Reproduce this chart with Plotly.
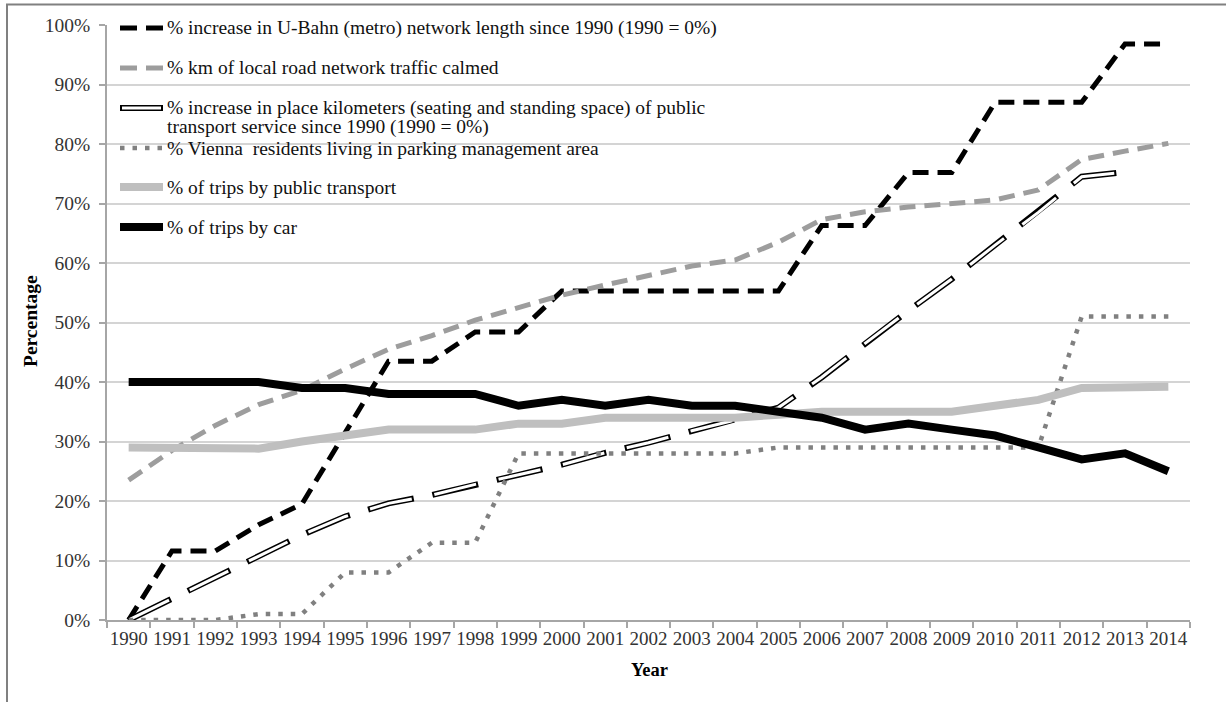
import plotly.graph_objects as go

# ---------------- data ----------------
years = [str(y) for y in range(1990, 2015)]
metro = [0, 11.6, 11.6, 16.0, 19.5, 31.5, 43.5, 43.5, 48.4, 48.4, 55.3, 55.3, 55.3,
         55.3, 55.3, 55.3, 66.3, 66.3, 75.2, 75.2, 87.0, 87.0, 87.0, 96.8, 96.8]
calmed = [23.5, 28.5, 32.7, 36.2, 38.6, 42.2, 45.5, 47.8, 50.4, 52.6, 54.6, 56.3, 57.9,
          59.5, 60.5, 63.5, 67.3, 68.6, 69.4, 70.1, 70.6, 72.3, 77.4, 78.8, 80.1]
place_km = [0, 3.6, 7.2, 10.7, 14.3, 17.4, 19.6, 21.0, 22.8, 24.4, 26.1, 28.1, 29.8,
            31.8, 33.6, 35.7, 40.8, 46.5, 52.0, 57.3, 63.0, 68.5, 74.5, 75.3, None]
parking = [0, 0, 0, 1, 1, 8, 8, 13, 13, 28, 28, 28, 28, 28, 28, 29, 29, 29, 29, 29,
           29, 29, 51, 51, 51]
public_transport = [29.0, 29.0, 29.0, 28.8, 30.0, 31.0, 32.0, 32.0, 32.0, 33.0, 33.0,
                    34.0, 34.0, 34.0, 34.0, 34.5, 35.0, 35.0, 35.0, 35.0, 36.0, 37.0,
                    39.0, 39.0, 39.2]
car = [40, 40, 40, 40, 39, 39, 38, 38, 38, 36, 37, 36, 37, 36, 36, 35, 34, 32, 33, 32,
       31, 29, 27, 28, 25]

legend_labels = [
    "% increase in U-Bahn (metro) network length since 1990 (1990 = 0%)",
    "% km of local road network traffic calmed",
    "% increase in place kilometers (seating and standing space) of public",
    "transport service since 1990 (1990 = 0%)",
    "% Vienna  residents living in parking management area",
    "% of trips by public transport",
    "% of trips by car",
]
y_ticks = list(range(0, 101, 10))
y_tick_text = [f"{v}%" for v in y_ticks]

# ---------------- layout geometry ----------------
W, H = 1226, 702
L, R, T, B = 107, 36, 25, 82
PW, PH = W - L - R, H - T - B
FONT = "Liberation Serif"


def px(xp):
    return (xp - L) / PW


def py(yp):
    return (H - B - yp) / PH


fig = go.Figure()

# metro (black dashed)
fig.add_trace(go.Scatter(x=years, y=metro, mode="lines",
                         line=dict(color="#000000", width=5, dash="16px,9px"),
                         showlegend=False))
# traffic calmed (grey dashed)
fig.add_trace(go.Scatter(x=years, y=calmed, mode="lines",
                         line=dict(color="#9d9d9d", width=5, dash="16px,9px"),
                         showlegend=False))
# place kilometers (white with black outline, long dash)
fig.add_trace(go.Scatter(x=years, y=place_km, mode="lines",
                         line=dict(color="#000000", width=6, dash="47px,19px"),
                         showlegend=False))
fig.add_trace(go.Scatter(x=years, y=place_km, mode="lines",
                         line=dict(color="#ffffff", width=3, dash="0px,2px,43px,21px"),
                         showlegend=False))
# parking management (grey dotted)
fig.add_trace(go.Scatter(x=years, y=parking, mode="lines",
                         line=dict(color="#808080", width=4.5, dash="4.5px,8px"),
                         showlegend=False))
# public transport
fig.add_trace(go.Scatter(x=years, y=public_transport, mode="lines",
                         line=dict(color="#bfbfbf", width=8), showlegend=False))
# car
fig.add_trace(go.Scatter(x=years, y=car, mode="lines",
                         line=dict(color="#000000", width=8), showlegend=False))

shapes = []
annotations = []

# white legend box (above gridlines, below traces)
shapes.append(dict(type="rect", xref="paper", yref="paper",
                   x0=px(113), x1=px(724), y0=py(244), y1=py(9),
                   fillcolor="#ffffff", line=dict(width=0), layer="between"))

# legend samples
rows = [28, 68, 108, 148, 187, 227]
sx0, sx1 = px(120), px(163)
shapes.append(dict(type="line", xref="paper", yref="paper", x0=sx0, x1=sx1,
                   y0=py(rows[0]), y1=py(rows[0]),
                   line=dict(color="#000000", width=5, dash="17px,9px")))
shapes.append(dict(type="line", xref="paper", yref="paper", x0=sx0, x1=sx1,
                   y0=py(rows[1]), y1=py(rows[1]),
                   line=dict(color="#9d9d9d", width=5, dash="17px,9px")))
shapes.append(dict(type="line", xref="paper", yref="paper", x0=sx0, x1=sx1,
                   y0=py(rows[2]), y1=py(rows[2]),
                   line=dict(color="#000000", width=6)))
shapes.append(dict(type="line", xref="paper", yref="paper", x0=px(122), x1=px(161),
                   y0=py(rows[2]), y1=py(rows[2]),
                   line=dict(color="#ffffff", width=3)))
shapes.append(dict(type="line", xref="paper", yref="paper", x0=sx0, x1=sx1,
                   y0=py(rows[3]), y1=py(rows[3]),
                   line=dict(color="#808080", width=4.5, dash="4.5px,8px")))
shapes.append(dict(type="line", xref="paper", yref="paper", x0=sx0, x1=sx1,
                   y0=py(rows[4]), y1=py(rows[4]),
                   line=dict(color="#bfbfbf", width=8)))
shapes.append(dict(type="line", xref="paper", yref="paper", x0=sx0, x1=sx1,
                   y0=py(rows[5]), y1=py(rows[5]),
                   line=dict(color="#000000", width=8)))

text_rows = [rows[0], rows[1], rows[2], 127, rows[3], rows[4], rows[5]]
for lab, yr in zip(legend_labels, text_rows):
    annotations.append(dict(text=lab, xref="paper", yref="paper", x=px(165), y=py(yr),
                            xanchor="left", yanchor="middle", showarrow=False,
                            font=dict(family=FONT, size=19.5, color="#111111")))

# axis titles
annotations.append(dict(text="<b>Year</b>", xref="paper", yref="paper",
                        x=px(649), y=py(670), xanchor="center", yanchor="middle",
                        showarrow=False, font=dict(family=FONT, size=18.5, color="#000000")))
annotations.append(dict(text="<b>Percentage</b>", xref="paper", yref="paper",
                        x=px(30), y=py(321), xanchor="center", yanchor="middle",
                        textangle=-90, showarrow=False,
                        font=dict(family=FONT, size=19.5, color="#000000")))

# outer frame (drawn as a rectangle outline that runs off the page)
shapes.append(dict(type="rect", xref="paper", yref="paper",
                   x0=px(7), x1=px(1240), y0=py(715), y1=py(4.5),
                   fillcolor="rgba(0,0,0,0)", line=dict(color="#808080", width=2)))

fig.update_layout(
    width=W, height=H,
    margin=dict(l=L, r=R, t=T, b=B, pad=0),
    paper_bgcolor="#ffffff", plot_bgcolor="#ffffff",
    font=dict(family=FONT, size=19, color="#333333"),
    showlegend=False,
    hovermode=False,
    shapes=shapes,
    annotations=annotations,
)
fig.update_xaxes(type="category", range=[-0.5, 24.5], tickson="boundaries",
                 ticks="outside", ticklen=6, tickcolor="#a6a6a6", tickwidth=1.5,
                 tickangle=0,
                 showline=True, linecolor="#a6a6a6", linewidth=1.5, showgrid=False,
                 tickfont=dict(family=FONT, size=19, color="#333333"))
fig.update_yaxes(range=[0, 100], tickvals=y_ticks, ticktext=y_tick_text,
                 ticks="outside", ticklen=6, tickcolor="#a6a6a6", tickwidth=1.5,
                 showline=True, linecolor="#a6a6a6", linewidth=1.5,
                 showgrid=True, gridcolor="#d4d4d4", gridwidth=1.5, zeroline=False,
                 ticklabelstandoff=5,
                 tickfont=dict(family=FONT, size=19.5, color="#333333"))

fig.write_html("out.html",
               config={"displayModeBar": False},
               post_script="document.body.style.margin='0';"
                           "document.body.style.overflow='hidden';")
